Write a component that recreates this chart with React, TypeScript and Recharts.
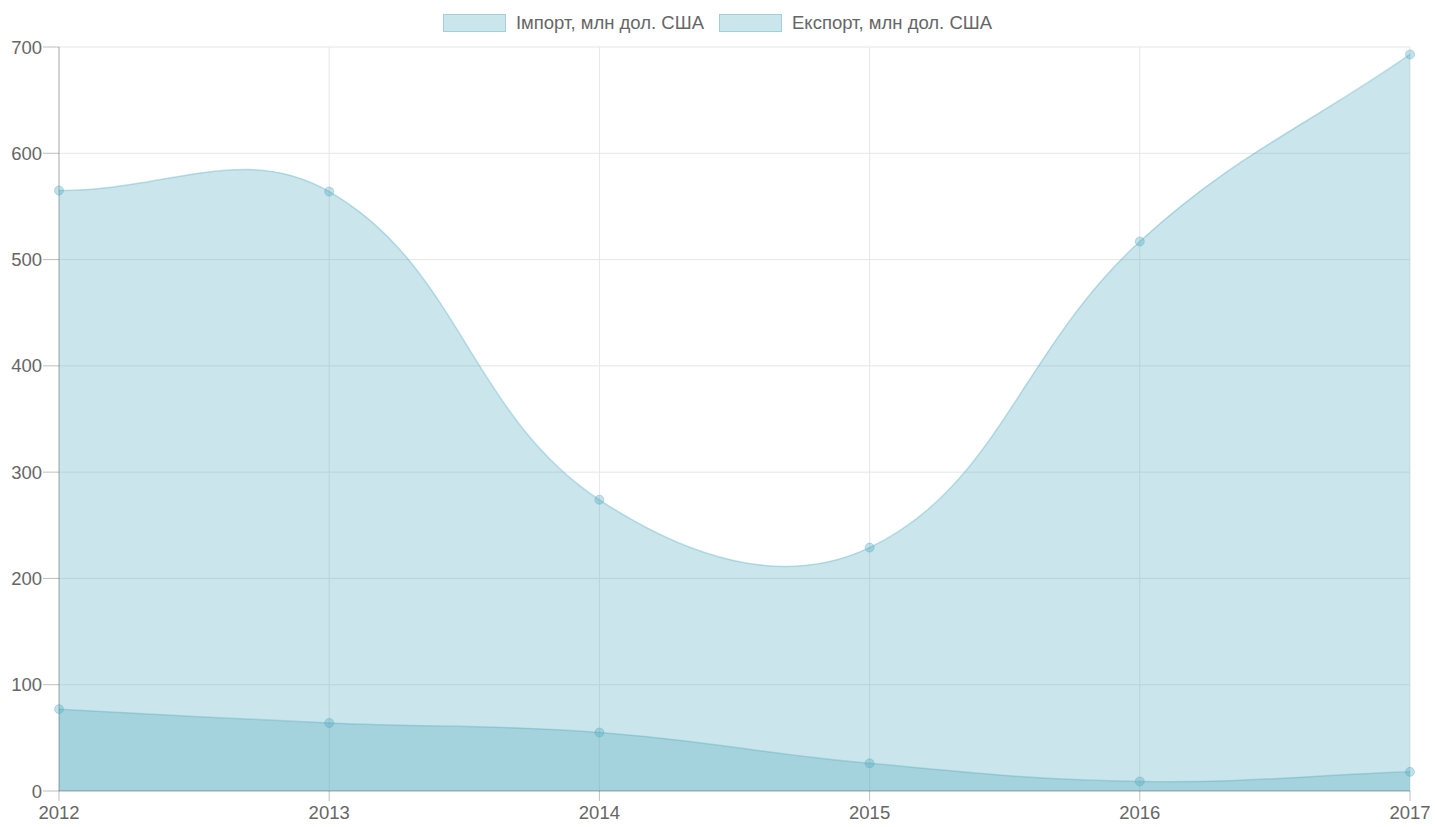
import { AreaChart, Area, XAxis, YAxis, CartesianGrid } from "recharts";

const years = ["2012", "2013", "2014", "2015", "2016", "2017"];
const importValues = [565, 564, 274, 229, 517, 693];
const exportValues = [77, 64, 55, 26, 9, 18];
const yTicks = [0, 100, 200, 300, 400, 500, 600, 700];

const seriesNames = ["Імпорт, млн дол. США", "Експорт, млн дол. США"];

const data = years.map((year, i) => ({
  year,
  imp: importValues[i],
  exp: exportValues[i]
}));

const fill = "rgba(80,170,190,0.3)";
const line = "rgba(80,170,190,0.35)";
const font = "'Liberation Sans', Arial, Helvetica, sans-serif";

// spline like Chart.js (tension 0.4), used as a d3 curve factory
function splineCurve(context: any) {
  let state = NaN;
  let xs: number[] = [];
  let ys: number[] = [];
  const t = 0.4;
  return {
    areaStart() {
      state = 0;
    },
    areaEnd() {
      state = NaN;
    },
    lineStart() {
      xs = [];
      ys = [];
    },
    point(x: number, y: number) {
      xs.push(+x);
      ys.push(+y);
    },
    lineEnd() {
      const n = xs.length;
      if (n) {
        if (state) context.lineTo(xs[0], ys[0]);
        else context.moveTo(xs[0], ys[0]);
        const prev: number[][] = [];
        const next: number[][] = [];
        for (let i = 0; i < n; i++) {
          const pi = i > 0 ? i - 1 : i;
          const ni = i < n - 1 ? i + 1 : i;
          const d01 = Math.hypot(xs[i] - xs[pi], ys[i] - ys[pi]);
          const d12 = Math.hypot(xs[ni] - xs[i], ys[ni] - ys[i]);
          let s01 = d01 / (d01 + d12);
          let s12 = d12 / (d01 + d12);
          if (isNaN(s01)) s01 = 0;
          if (isNaN(s12)) s12 = 0;
          const fa = t * s01;
          const fb = t * s12;
          prev.push([xs[i] - fa * (xs[ni] - xs[pi]), ys[i] - fa * (ys[ni] - ys[pi])]);
          next.push([xs[i] + fb * (xs[ni] - xs[pi]), ys[i] + fb * (ys[ni] - ys[pi])]);
        }
        for (let i = 1; i < n; i++) {
          context.bezierCurveTo(
            next[i - 1][0],
            next[i - 1][1],
            prev[i][0],
            prev[i][1],
            xs[i],
            ys[i]
          );
        }
      }
      if (state || (state !== 0 && n === 1)) context.closePath();
      state = 1 - state;
    }
  };
}

function TopLegend() {
  return (
    <div
      style={{
        position: "absolute",
        top: 14,
        left: 0,
        width: 1435,
        height: 18,
        display: "flex",
        justifyContent: "center",
        gap: 15,
        fontFamily: font,
        fontSize: 18.5,
        color: "#666"
      }}
    >
      {seriesNames.map((name) => (
        <div key={name} style={{ display: "flex", alignItems: "center", gap: 10 }}>
          <span
            style={{
              display: "inline-block",
              boxSizing: "border-box",
              width: 63,
              height: 18,
              background: fill,
              border: `1px solid ${line}`
            }}
          />
          <span style={{ whiteSpace: "nowrap" }}>{name}</span>
        </div>
      ))}
    </div>
  );
}

export default function App() {
  return (
    <div style={{ position: "relative", width: 1435, height: 827 }}>
      <style>{`body{margin:0}`}</style>
      <TopLegend />
      <AreaChart
        width={1435}
        height={827}
        data={data}
        margin={{ top: 47, right: 25, left: 0, bottom: 6 }}
      >
        <CartesianGrid stroke="#e6e6e6" />
        <XAxis
          dataKey="year"
          height={30}
          tickSize={10}
          tickMargin={5}
          stroke="rgba(0,0,0,0.25)"
          tick={{ fill: "#666", fontSize: 18.5, fontFamily: font }}
        />
        <YAxis
          width={59}
          domain={[0, 700]}
          ticks={yTicks}
          tickSize={16}
          tickMargin={1}
          stroke="rgba(0,0,0,0.25)"
          tick={{ fill: "#666", fontSize: 18.5, fontFamily: font }}
        />
        <Area
          type={splineCurve as any}
          dataKey="imp"
          name={seriesNames[0]}
          fill={fill}
          fillOpacity={1}
          stroke={line}
          strokeWidth={1.5}
          dot={{ r: 4.5, fill: line, stroke: line, strokeWidth: 1 }}
          activeDot={false}
          isAnimationActive={false}
        />
        <Area
          type={splineCurve as any}
          dataKey="exp"
          name={seriesNames[1]}
          fill={fill}
          fillOpacity={1}
          stroke={line}
          strokeWidth={1.5}
          dot={{ r: 4.5, fill: line, stroke: line, strokeWidth: 1 }}
          activeDot={false}
          isAnimationActive={false}
        />
      </AreaChart>
    </div>
  );
}
